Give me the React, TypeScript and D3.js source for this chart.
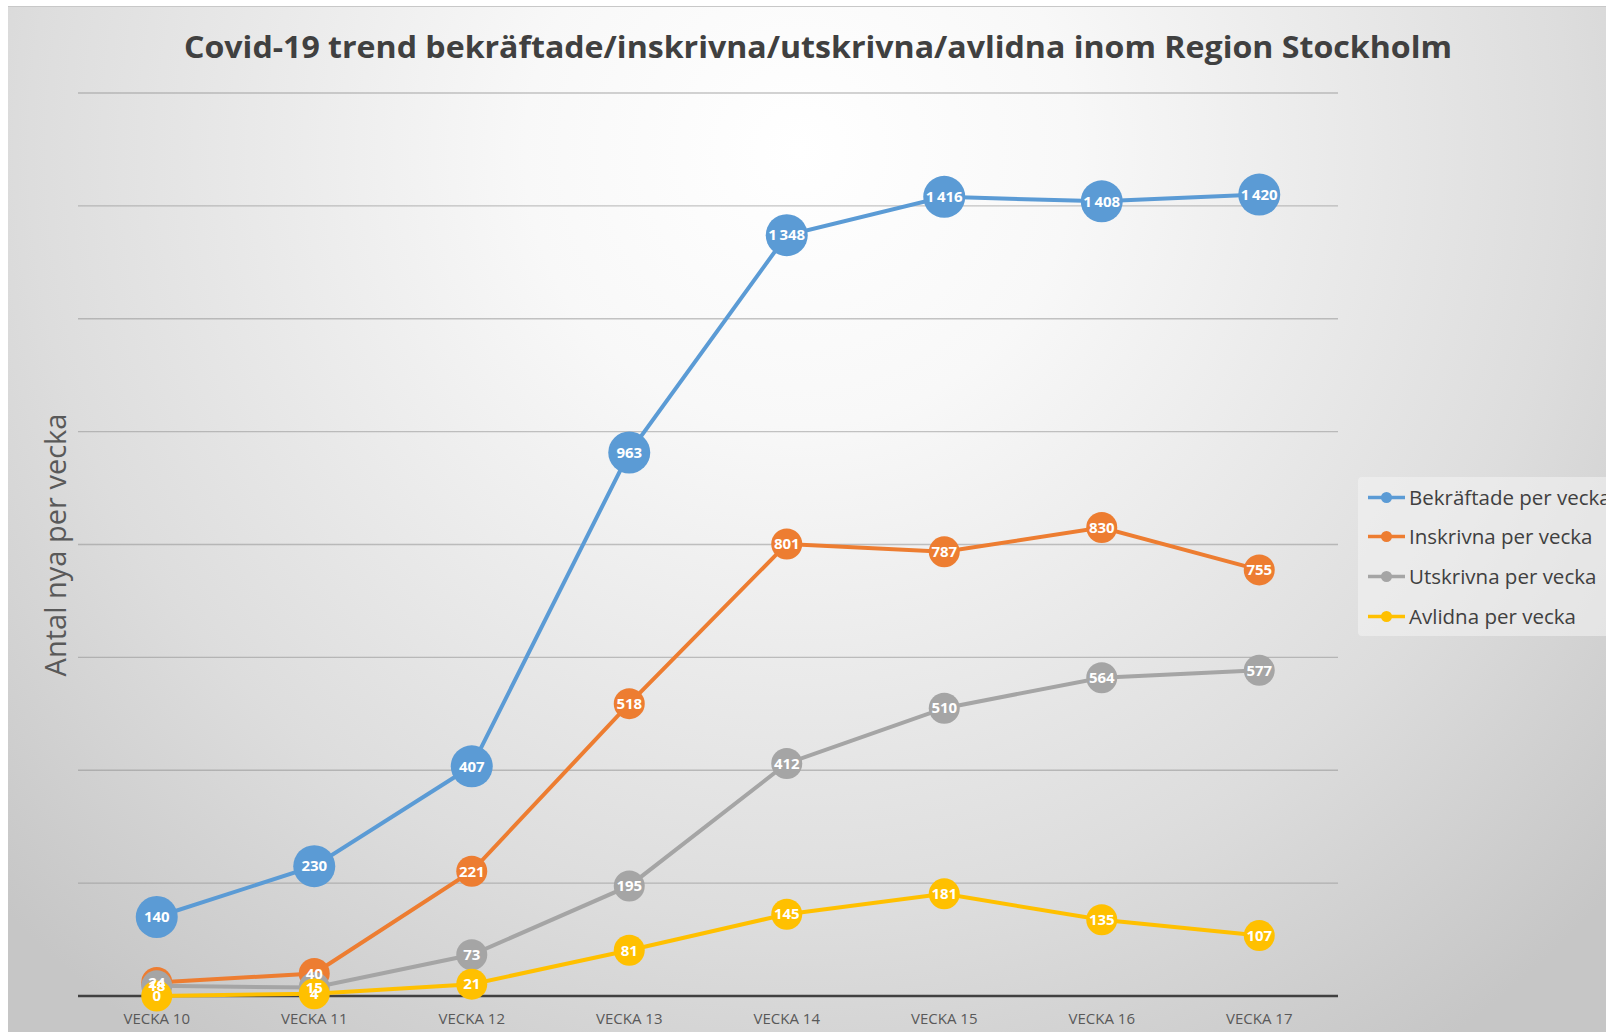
import * as d3 from 'd3'
import React, { useEffect, useRef } from 'react'

// Data
const weeks = ['VECKA 10', 'VECKA 11', 'VECKA 12', 'VECKA 13', 'VECKA 14', 'VECKA 15', 'VECKA 16', 'VECKA 17']
const bekraftade = [140, 230, 407, 963, 1348, 1416, 1408, 1420]
const inskrivna = [24, 40, 221, 518, 801, 787, 830, 755]
const utskrivna = [18, 15, 73, 195, 412, 510, 564, 577]
const avlidna = [0, 4, 21, 81, 145, 181, 135, 107]
const seriesNames = ['Bekräftade per vecka', 'Inskrivna per vecka', 'Utskrivna per vecka', 'Avlidna per vecka']
const seriesColors = ['#5b9bd5', '#ed7d31', '#a5a5a5', '#ffc000']
const title = 'Covid-19 trend bekräftade/inskrivna/utskrivna/avlidna inom Region Stockholm'
const yTitle = 'Antal nya per vecka'

const W = 1606
const H = 1035
const FONT = "'Open Sans', 'Noto Sans', sans-serif"

const App = () => {
    const ref = useRef<SVGSVGElement>(null)

    useEffect(() => {
        const svg = d3.select(ref.current)
        svg.selectAll('*').remove()

        const plot = { left: 78, right: 1338, top: 93, bottom: 996 }

        // Background gradient
        const defs = svg.append('defs')
        const grad = defs.append('radialGradient')
            .attr('id', 'bg')
            .attr('gradientUnits', 'userSpaceOnUse')
            .attr('cx', 800).attr('cy', 150).attr('r', 1100)
        grad.append('stop').attr('offset', 0).attr('stop-color', '#ffffff')
        grad.append('stop').attr('offset', 0.25).attr('stop-color', '#f8f8f8')
        grad.append('stop').attr('offset', 0.7).attr('stop-color', '#dddddd')
        grad.append('stop').attr('offset', 1).attr('stop-color', '#c6c6c6')

        svg.append('rect').attr('width', W).attr('height', H).attr('fill', '#ffffff')
        svg.append('rect')
            .attr('x', 8).attr('y', 6)
            .attr('width', W - 8).attr('height', 1026)
            .attr('fill', 'url(#bg)')
        svg.append('line')
            .attr('x1', 8).attr('x2', W).attr('y1', 6.5).attr('y2', 6.5)
            .attr('stroke', '#c8c8c8').attr('stroke-width', 1)

        // Scales
        const x = d3.scalePoint<string>().domain(weeks).range([plot.left, plot.right]).padding(0.5)
        const y = d3.scaleLinear().domain([0, 1600]).range([plot.bottom, plot.top])

        // Gridlines
        svg.append('g')
            .selectAll('line')
            .data(y.ticks(8).filter(d => d > 0))
            .enter()
            .append('line')
            .attr('x1', plot.left).attr('x2', plot.right)
            .attr('y1', d => y(d)).attr('y2', d => y(d))
            .attr('stroke', '#8c8c8c').attr('stroke-opacity', 0.5).attr('stroke-width', 1.3)

        // Axis line
        svg.append('line')
            .attr('x1', plot.left).attr('x2', plot.right)
            .attr('y1', plot.bottom).attr('y2', plot.bottom)
            .attr('stroke', '#404040').attr('stroke-width', 2.5)

        // X labels
        svg.append('g')
            .selectAll('text')
            .data(weeks)
            .enter()
            .append('text')
            .attr('x', d => x(d)!)
            .attr('y', 1024)
            .attr('text-anchor', 'middle')
            .attr('font-family', FONT)
            .attr('font-size', 15)
            .attr('fill', '#595959')
            .text(d => d)

        // Title
        svg.append('text')
            .attr('x', 818).attr('y', 58)
            .attr('text-anchor', 'middle')
            .attr('font-family', FONT)
            .attr('font-weight', 'bold')
            .attr('font-size', 31)
            .attr('fill', '#404040')
            .attr('textLength', 1268)
            .attr('lengthAdjust', 'spacingAndGlyphs')
            .text(title)

        // Y title
        svg.append('text')
            .attr('transform', 'translate(66,545) rotate(-90)')
            .attr('text-anchor', 'middle')
            .attr('font-family', FONT)
            .attr('font-size', 29)
            .attr('fill', '#595959')
            .text(yTitle)

        // Series
        const allSeries = [bekraftade, inskrivna, utskrivna, avlidna]
        const radius = [21, 15.5, 15.5, 15.5]
        const line = d3.line<number>()
            .x((_, i) => x(weeks[i])!)
            .y(d => y(d))

        allSeries.forEach((vals, s) => {
            const g = svg.append('g')
            g.append('path')
                .attr('d', line(vals))
                .attr('fill', 'none')
                .attr('stroke', seriesColors[s])
                .attr('stroke-width', 4)
            g.selectAll('circle')
                .data(vals)
                .enter()
                .append('circle')
                .attr('cx', (_, i) => x(weeks[i])!)
                .attr('cy', d => y(d))
                .attr('r', radius[s])
                .attr('fill', seriesColors[s])
        })

        // Data labels on top of all markers (they overlap near zero, as in the original)
        const fmt = d3.formatLocale({ decimal: ',', thousands: '\u2009', grouping: [3], currency: ['', ' kr'] }).format(',')
        allSeries.forEach(vals => {
            svg.append('g')
                .selectAll('text')
                .data(vals)
                .enter()
                .append('text')
                .attr('x', (_, i) => x(weeks[i])!)
                .attr('y', d => y(d))
                .attr('dy', '0.35em')
                .attr('text-anchor', 'middle')
                .attr('font-family', FONT)
                .attr('font-weight', 'bold')
                .attr('font-size', 15)
                .attr('fill', '#ffffff')
                .text(d => fmt(d))
        })

        // Legend
        const legend = svg.append('g')
        legend.append('rect')
            .attr('x', 1358).attr('y', 477)
            .attr('width', 260).attr('height', 159)
            .attr('rx', 4)
            .attr('fill', '#f4f4f4').attr('fill-opacity', 0.55)
        const rows = [497.5, 536.5, 576.5, 616.5]
        seriesNames.forEach((name, i) => {
            const item = legend.append('g').attr('transform', `translate(0,${rows[i]})`)
            item.append('line')
                .attr('x1', 1368).attr('x2', 1405)
                .attr('stroke', seriesColors[i]).attr('stroke-width', 3.5)
            item.append('circle')
                .attr('cx', 1386.5).attr('r', 5.5)
                .attr('fill', seriesColors[i])
            item.append('text')
                .attr('x', 1409)
                .attr('dy', '0.35em')
                .attr('font-family', FONT)
                .attr('font-size', 20.5)
                .attr('fill', '#404040')
                .text(name)
        })
    }, [])

    return (
        <svg
            ref={ref}
            width={W}
            height={H}
            style={{ position: 'absolute', top: 0, left: 0, display: 'block' }}
        />
    )
}

export default App
